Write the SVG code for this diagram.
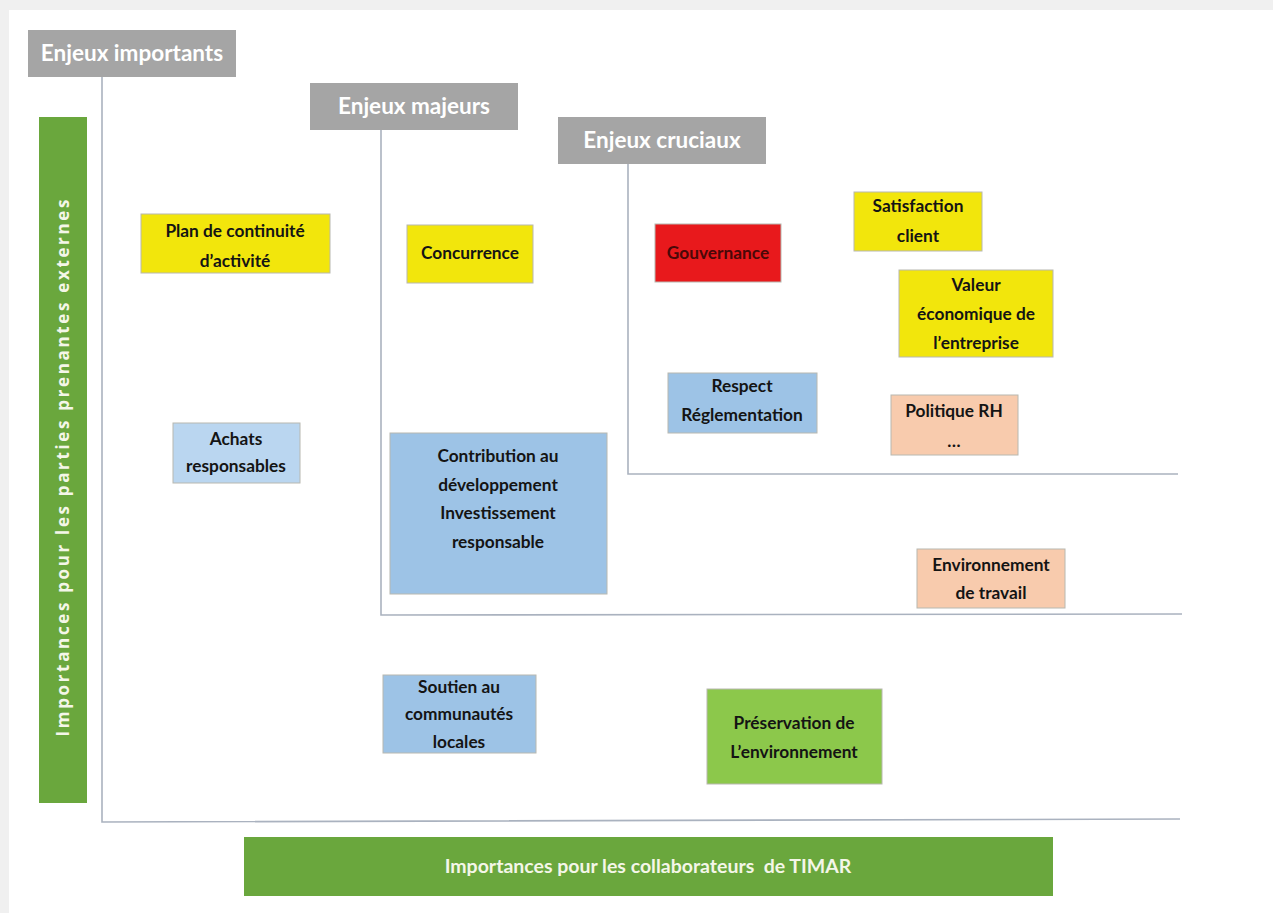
<svg xmlns="http://www.w3.org/2000/svg" width="1273" height="913" viewBox="0 0 1273 913">
<defs>
<style>
.hdr{fill:#a5a5a5}
.hdrt{font-family:Lato,"Liberation Sans",sans-serif;font-weight:700;font-size:22.5px;fill:#ffffff;text-anchor:middle}
.bar{fill:#6aa73d}
.bart{font-family:Lato,"Liberation Sans",sans-serif;font-weight:700;font-size:19.5px;fill:#f4f6e8;text-anchor:middle}
.vt{font-family:"Open Sans","DejaVu Sans",sans-serif;font-weight:700;font-size:17px;fill:#f4f6e8;text-anchor:middle}
.box{stroke:#b8b8b0;stroke-width:1}
.t{font-family:Lato,"Liberation Sans",sans-serif;font-weight:700;font-size:17.3px;fill:#141414;text-anchor:middle}
.yel{fill:#f2e60c}
.red{fill:#e8191c}
.blu{fill:#9dc3e6}
.lblu{fill:#bad6f0}
.pch{fill:#f8cbad}
.grn{fill:#8cc84b}
.ln{stroke:#aab2bf;stroke-width:1.6;fill:none}
</style>
</defs>
<rect x="0" y="0" width="1273" height="913" fill="#ffffff"/>
<rect x="0" y="0" width="1273" height="10" fill="#f0f0f0"/>
<rect x="0" y="0" width="9" height="913" fill="#f0f0f0"/>

<g id="connectors">
<polyline class="ln" points="102,77 102,822 1180,819"/>
<polyline class="ln" points="381,130 381,615 1182,614"/>
<polyline class="ln" points="628,164 628,474 1178,474"/>
</g>

<g id="enjeux-importants">
<rect class="hdr" x="28" y="30" width="208" height="47"/>
<text class="hdrt" x="132" y="61">Enjeux importants</text>
</g>
<g id="enjeux-majeurs">
<rect class="hdr" x="310" y="83" width="208" height="47"/>
<text class="hdrt" x="414" y="114">Enjeux majeurs</text>
</g>
<g id="enjeux-cruciaux">
<rect class="hdr" x="558" y="117" width="208" height="47"/>
<text class="hdrt" x="662" y="148">Enjeux cruciaux</text>
</g>

<g id="axe-externes">
<rect class="bar" x="39" y="117" width="48" height="686"/>
<text class="vt" transform="translate(69,468) rotate(-90)" x="0" y="0" textLength="537" lengthAdjust="spacing">Importances pour les parties prenantes externes</text>
</g>
<g id="axe-collaborateurs">
<rect class="bar" x="244" y="837" width="809" height="59"/>
<text class="bart" x="648" y="873">Importances pour les collaborateurs&#160; de TIMAR</text>
</g>

<g id="plan-continuite">
<rect class="box yel" x="141" y="214" width="189" height="59"/>
<text class="t" x="235" y="237"><tspan x="235">Plan de continuité</tspan><tspan x="235" dy="30">d’activité</tspan></text>
</g>
<g id="concurrence">
<rect class="box yel" x="407" y="225" width="126" height="58"/>
<text class="t" x="470" y="259">Concurrence</text>
</g>
<g id="gouvernance">
<rect class="box red" x="655" y="224" width="126" height="58"/>
<text class="t" x="718" y="259" style="fill:#4a0808">Gouvernance</text>
</g>
<g id="satisfaction-client">
<rect class="box yel" x="854" y="192" width="128" height="59"/>
<text class="t" x="918" y="212"><tspan x="918">Satisfaction</tspan><tspan x="918" dy="30">client</tspan></text>
</g>
<g id="valeur-economique">
<rect class="box yel" x="899" y="270" width="154" height="87"/>
<text class="t" x="976" y="291"><tspan x="976">Valeur</tspan><tspan x="976" dy="29">économique de</tspan><tspan x="976" dy="29">l’entreprise</tspan></text>
</g>
<g id="respect-reglementation">
<rect class="box blu" x="668" y="373" width="149" height="60"/>
<text class="t" x="742" y="392"><tspan x="742">Respect</tspan><tspan x="742" dy="29">Réglementation</tspan></text>
</g>
<g id="politique-rh">
<rect class="box pch" x="891" y="395" width="127" height="60"/>
<text class="t" x="954" y="417"><tspan x="954">Politique RH</tspan><tspan x="954" dy="30">…</tspan></text>
</g>
<g id="achats-responsables">
<rect class="box lblu" x="173" y="423" width="127" height="60"/>
<text class="t" x="236" y="445"><tspan x="236">Achats</tspan><tspan x="236" dy="27">responsables</tspan></text>
</g>
<g id="contribution-developpement">
<rect class="box blu" x="390" y="433" width="217" height="161"/>
<text class="t" x="498" y="462"><tspan x="498">Contribution au</tspan><tspan x="498" dy="29">développement</tspan><tspan x="498" dy="28">Investissement</tspan><tspan x="498" dy="29">responsable</tspan></text>
</g>
<g id="environnement-travail">
<rect class="box pch" x="917" y="549" width="148" height="59"/>
<text class="t" x="991" y="571"><tspan x="991">Environnement</tspan><tspan x="991" dy="28">de travail</tspan></text>
</g>
<g id="soutien-communautes">
<rect class="box blu" x="383" y="675" width="153" height="78"/>
<text class="t" x="459" y="693"><tspan x="459">Soutien au</tspan><tspan x="459" dy="27">communautés</tspan><tspan x="459" dy="28">locales</tspan></text>
</g>
<g id="preservation-environnement">
<rect class="box grn" x="707" y="689" width="175" height="95"/>
<text class="t" x="794" y="729"><tspan x="794">Préservation de</tspan><tspan x="794" dy="29">L’environnement</tspan></text>
</g>
</svg>
